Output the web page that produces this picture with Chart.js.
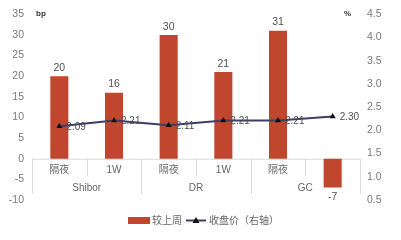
<!DOCTYPE html>
<html>
<head>
<meta charset="utf-8">
<script src="https://cdn.jsdelivr.net/npm/chart.js@4"></script>
<style>
  html, body { margin: 0; padding: 0; background: #fff; }
  #wrap { width: 401px; height: 240px; position: relative; }
</style>
</head>
<body>
<div id="wrap"><canvas id="rateChart"></canvas></div>
<script>
// data
const subLabels = ['隔夜', '1W', '隔夜', '1W', '隔夜', '1W'];
const groupLabels = ['Shibor', 'DR', 'GC'];
const weekChange = [20, 16, 30, 21, 31, -7];
const closeRate = [2.09, 2.21, 2.11, 2.21, 2.21, 2.30];
const seriesNames = ['较上周', '收盘价（右轴）'];

const FONT = '"Liberation Sans", "Noto Sans CJK SC", sans-serif';
const BAR_COLOR = '#C0462E';
const LINE_COLOR = '#3D3F66';
const TEXT_COLOR = '#7A7A7A';
const LABEL_COLOR = '#505050';
const AXIS_LINE = '#D9D9D9';

// category axis drawn at the zero line, with group labels below
const categoryAxis = {
    id: 'categoryAxis',
    beforeDatasetsDraw(chart) {
        const ctx = chart.ctx;
        const x = chart.scales.x;
        const y = chart.scales.y;
        const zero = y.getPixelForValue(0);
        const area = chart.chartArea;
        const step = (area.right - area.left) / subLabels.length;
        ctx.save();
        ctx.strokeStyle = AXIS_LINE;
        ctx.lineWidth = 1;
        ctx.beginPath();
        ctx.moveTo(area.left, zero + 0.5);
        ctx.lineTo(area.right, zero + 0.5);
        for (let i = 0; i <= subLabels.length; i++) {
            const bx = Math.round(area.left + step * i) + 0.5;
            const isGroup = i % 2 === 0;
            ctx.moveTo(bx, zero);
            ctx.lineTo(bx, zero + (isGroup ? 35 : 17));
        }
        ctx.stroke();

        ctx.fillStyle = '#666';
        ctx.font = '10px ' + FONT;
        ctx.textAlign = 'center';
        ctx.textBaseline = 'middle';
        subLabels.forEach((lab, i) => {
            ctx.fillText(lab, x.getPixelForValue(i), zero + 12);
        });
        groupLabels.forEach((lab, g) => {
            const cx = area.left + step * (2 * g + 1);
            ctx.fillText(lab, cx, zero + 30);
        });
        ctx.restore();
    }
};

// value labels, axis titles and legend
const extras = {
    id: 'extras',
    afterDatasetsDraw(chart) {
        const ctx = chart.ctx;
        const area = chart.chartArea;
        ctx.save();
        ctx.fillStyle = LABEL_COLOR;
        ctx.font = '10.5px ' + FONT;
        ctx.textAlign = 'center';

        chart.getDatasetMeta(0).data.forEach((bar, i) => {
            const v = weekChange[i];
            if (v >= 0) {
                ctx.textBaseline = 'bottom';
                ctx.fillText(String(v), bar.x, bar.y - 3);
            } else {
                ctx.textBaseline = 'top';
                ctx.fillText(String(v), bar.x, bar.y + 4);
            }
        });

        ctx.font = '10px ' + FONT;
        ctx.textAlign = 'left';
        ctx.textBaseline = 'middle';
        chart.getDatasetMeta(1).data.forEach((pt, i) => {
            ctx.fillText(closeRate[i].toFixed(2), pt.x + 7, pt.y + 1);
        });

        // axis unit titles
        ctx.fillStyle = '#333';
        ctx.font = 'bold 8px ' + FONT;
        ctx.textAlign = 'left';
        ctx.fillText('bp', area.left + 4, 14);
        ctx.fillText('%', area.right - 16, 14);

        // legend
        const ly = 220;
        ctx.fillStyle = BAR_COLOR;
        ctx.fillRect(128, ly - 3, 22, 7);
        ctx.fillStyle = '#666';
        ctx.font = '10px ' + FONT;
        ctx.textBaseline = 'middle';
        ctx.fillText(seriesNames[0], 152, ly + 1);

        ctx.strokeStyle = LINE_COLOR;
        ctx.lineWidth = 2;
        ctx.beginPath();
        ctx.moveTo(186, ly + 0.5);
        ctx.lineTo(206, ly + 0.5);
        ctx.stroke();
        ctx.fillStyle = '#111';
        ctx.beginPath();
        ctx.moveTo(196, ly - 3);
        ctx.lineTo(199.5, ly + 3);
        ctx.lineTo(192.5, ly + 3);
        ctx.closePath();
        ctx.fill();
        ctx.fillStyle = '#666';
        ctx.fillText(seriesNames[1], 209, ly + 1);
        ctx.restore();
    }
};

const ctx = document.getElementById('rateChart');
new Chart(ctx, {
    type: 'bar',
    data: {
        labels: subLabels,
        datasets: [
            {
                label: seriesNames[0],
                data: weekChange,
                backgroundColor: BAR_COLOR,
                barPercentage: 0.33,
                categoryPercentage: 1,
                yAxisID: 'y',
                order: 2
            },
            {
                type: 'line',
                label: seriesNames[1],
                data: closeRate,
                borderColor: LINE_COLOR,
                borderWidth: 2,
                pointStyle: 'triangle',
                pointRadius: 3.5,
                pointBackgroundColor: '#111',
                pointBorderColor: '#111',
                pointBorderWidth: 0,
                tension: 0,
                yAxisID: 'y1',
                order: 1
            }
        ]
    },
    options: {
        responsive: true,
        maintainAspectRatio: false,
        animation: false,
        layout: { padding: { top: 14, bottom: 40, left: 0, right: 0 } },
        plugins: {
            legend: { display: false },
            tooltip: { enabled: false }
        },
        scales: {
            x: { display: false, offset: true },
            y: {
                position: 'left',
                min: -10,
                max: 35,
                afterFit(scale) { scale.width = 32; },
                grid: { display: false, drawTicks: false },
                border: { display: false },
                ticks: {
                    stepSize: 5,
                    padding: 8,
                    color: TEXT_COLOR,
                    font: { size: 10.5, family: FONT }
                }
            },
            y1: {
                position: 'right',
                min: 0.5,
                max: 4.5,
                afterFit(scale) { scale.width = 41; },
                grid: { display: false, drawTicks: false },
                border: { display: false },
                ticks: {
                    stepSize: 0.5,
                    padding: 7,
                    color: TEXT_COLOR,
                    font: { size: 10.5, family: FONT },
                    callback: v => v.toFixed(1)
                }
            }
        }
    },
    plugins: [categoryAxis, extras]
});
</script>
</body>
</html>
